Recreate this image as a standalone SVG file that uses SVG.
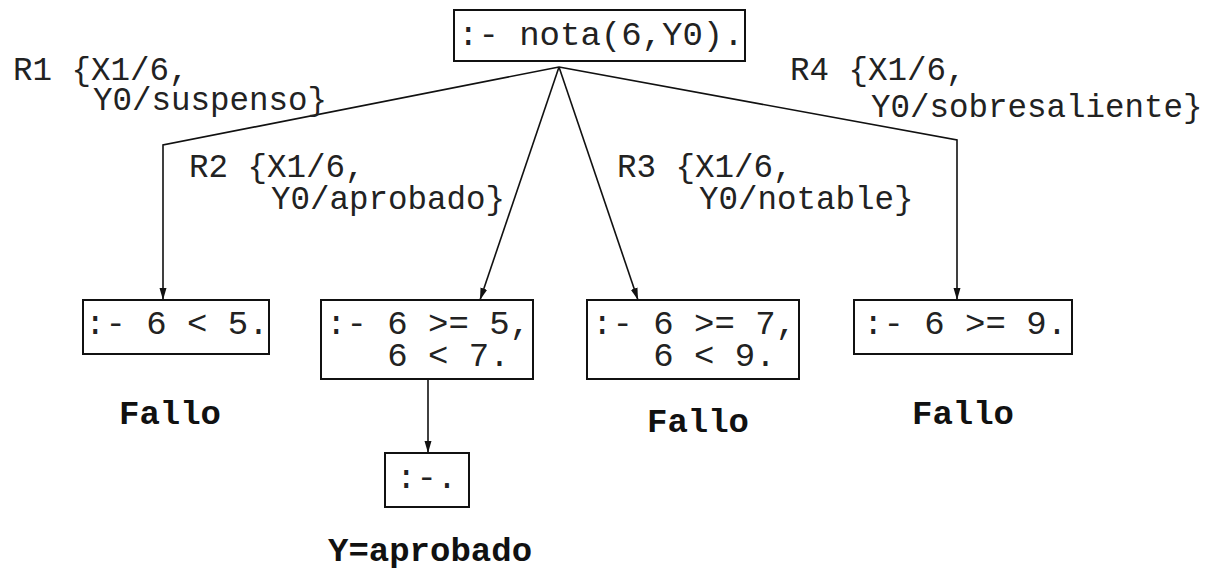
<svg xmlns="http://www.w3.org/2000/svg" width="1227" height="569" viewBox="0 0 1227 569">
<style>
.bg{fill:#ffffff}
.box{fill:#ffffff;stroke:#111111;stroke-width:2}
.code{font-family:"Liberation Mono","Courier New",monospace;font-size:34px;fill:#222222;white-space:pre}
.lbl{font-family:"Liberation Mono","Courier New",monospace;font-size:32.5px;fill:#222222;white-space:pre}
.res{font-family:"Liberation Mono","Courier New",monospace;font-size:34px;font-weight:bold;fill:#111111;white-space:pre}
.edge{fill:none;stroke:#111111;stroke-width:1.6;marker-end:url(#arr)}
</style>
<defs>
<marker id="arr" viewBox="0 0 12 8" refX="12" refY="4" markerWidth="12" markerHeight="8" markerUnits="userSpaceOnUse" orient="auto">
<path d="M0,0.5 L12,4 L0,7.5 Z" fill="#111111"/>
</marker>
</defs>
<rect class="bg" x="0" y="0" width="1227" height="569"/>
<g id="connectors">
<polyline class="edge" points="559,67 163,145 163,300"/>
<line class="edge" x1="559" y1="67" x2="480" y2="300"/>
<line class="edge" x1="559" y1="67" x2="638" y2="300"/>
<polyline class="edge" points="559,67 957,140 957,300"/>
<line class="edge" x1="428" y1="379" x2="428" y2="453"/>
</g>
<g id="labels">
<text class="lbl" x="13" y="80" xml:space="preserve">R1 {X1/6,</text>
<text class="lbl" x="93" y="110" xml:space="preserve">Y0/suspenso}</text>
<text class="lbl" x="189" y="177" xml:space="preserve">R2 {X1/6,</text>
<text class="lbl" x="271" y="209" xml:space="preserve">Y0/aprobado}</text>
<text class="lbl" x="617" y="177" xml:space="preserve">R3 {X1/6,</text>
<text class="lbl" x="699" y="209" xml:space="preserve">Y0/notable}</text>
<text class="lbl" x="790" y="80" xml:space="preserve">R4 {X1/6,</text>
<text class="lbl" x="871" y="117" xml:space="preserve">Y0/sobresaliente}</text>
</g>
<g id="n0">
<rect class="box" x="454" y="10" width="291" height="51"/>
<text class="code" x="458" y="45" xml:space="preserve">:- nota(6,Y0).</text>
</g>
<g id="n1">
<rect class="box" x="83" y="300" width="186" height="54"/>
<text class="code" x="85" y="334" xml:space="preserve">:- 6 &lt; 5.</text>
</g>
<g id="n2">
<rect class="box" x="321" y="300" width="212" height="79"/>
<text class="code" x="326" y="334" xml:space="preserve">:- 6 &gt;= 5,</text>
<text class="code" x="326" y="366" xml:space="preserve">   6 &lt; 7.</text>
</g>
<g id="n3">
<rect class="box" x="587" y="300" width="212" height="79"/>
<text class="code" x="592" y="334" xml:space="preserve">:- 6 &gt;= 7,</text>
<text class="code" x="592" y="366" xml:space="preserve">   6 &lt; 9.</text>
</g>
<g id="n4">
<rect class="box" x="854" y="300" width="218" height="54"/>
<text class="code" x="863" y="334" xml:space="preserve">:- 6 &gt;= 9.</text>
</g>
<g id="n5">
<rect class="box" x="385" y="453" width="84" height="54"/>
<text class="code" x="396" y="488" xml:space="preserve">:-.</text>
</g>
<g id="results">
<text class="res" x="119" y="424">Fallo</text>
<text class="res" x="647" y="432">Fallo</text>
<text class="res" x="912" y="424">Fallo</text>
<text class="res" x="328" y="561">Y=aprobado</text>
</g>
</svg>
